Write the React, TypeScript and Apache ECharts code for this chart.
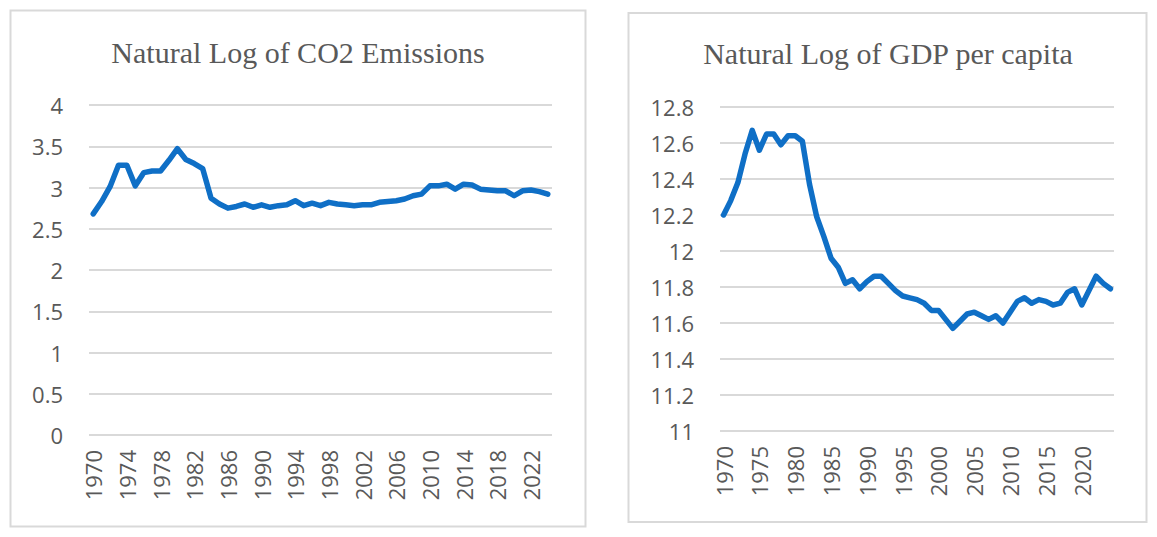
import React, { useEffect, useRef } from 'react';
import * as echarts from 'echarts';

const years = [
  '1970', '1971', '1972', '1973', '1974', '1975', '1976', '1977', '1978', '1979',
  '1980', '1981', '1982', '1983', '1984', '1985', '1986', '1987', '1988', '1989',
  '1990', '1991', '1992', '1993', '1994', '1995', '1996', '1997', '1998', '1999',
  '2000', '2001', '2002', '2003', '2004', '2005', '2006', '2007', '2008', '2009',
  '2010', '2011', '2012', '2013', '2014', '2015', '2016', '2017', '2018', '2019',
  '2020', '2021', '2022', '2023', '2024'
];

// ln(CO2 emissions)
const co2 = [
  2.68, 2.83, 3.01, 3.27, 3.27, 3.02, 3.18, 3.2, 3.2, 3.33,
  3.47, 3.34, 3.29, 3.23, 2.87, 2.8, 2.75, 2.77, 2.8, 2.76,
  2.79, 2.76, 2.78, 2.79, 2.84, 2.78, 2.81, 2.78, 2.82, 2.8,
  2.79, 2.78, 2.79, 2.79, 2.82, 2.83, 2.84, 2.86, 2.9, 2.92,
  3.02, 3.02, 3.04, 2.98, 3.04, 3.03, 2.98, 2.97, 2.96, 2.96,
  2.9, 2.96, 2.97, 2.95, 2.92
];

// ln(GDP per capita)
const gdp = [
  12.2, 12.28, 12.38, 12.54, 12.67, 12.56, 12.65, 12.65, 12.59, 12.64,
  12.64, 12.61, 12.37, 12.19, 12.08, 11.96, 11.91, 11.82, 11.84, 11.79,
  11.83, 11.86, 11.86, 11.82, 11.78, 11.75, 11.74, 11.73, 11.71, 11.67,
  11.67, 11.62, 11.57, 11.61, 11.65, 11.66, 11.64, 11.62, 11.64, 11.6,
  11.66, 11.72, 11.74, 11.71, 11.73, 11.72, 11.7, 11.71, 11.77, 11.79,
  11.7, 11.78, 11.86, 11.82, 11.79
];

const titles = ['Natural Log of CO2 Emissions', 'Natural Log of GDP per capita'];

const gray = '#595959';
const gridGray = '#d9d9d9';
const blue = '#0f6fc6';
const labelFont = '"Open Sans", "Noto Sans", sans-serif';

const App: React.FC = () => {
  const chartRef = useRef<HTMLDivElement>(null);

  useEffect(() => {
    if (!chartRef.current) return;
    const chart = echarts.init(chartRef.current, null, { renderer: 'svg' });

    const xAxisFor = (gridIndex: number, interval: number) => ({
      type: 'category',
      gridIndex,
      data: years,
      boundaryGap: true,
      axisLine: { show: false },
      axisTick: { show: false },
      axisLabel: {
        interval,
        rotate: 90,
        margin: 15,
        color: gray,
        fontSize: 22,
        fontFamily: labelFont
      }
    });

    const yAxisFor = (gridIndex: number, min: number, max: number, interval: number) => ({
      type: 'value',
      gridIndex,
      min,
      max,
      interval,
      axisLine: { show: false },
      axisTick: { show: false },
      axisLabel: {
        margin: 26,
        color: gray,
        fontSize: 22,
        fontFamily: labelFont,
        formatter: (v: number) => String(+v.toFixed(1))
      },
      splitLine: { lineStyle: { color: gridGray, width: 2 } }
    });

    const option = {
      animation: false,
      backgroundColor: '#ffffff',
      graphic: [
        {
          type: 'rect',
          shape: { x: 10.5, y: 10.5, width: 575, height: 516 },
          style: { fill: 'none', stroke: gridGray, lineWidth: 2 }
        },
        {
          type: 'rect',
          shape: { x: 628.5, y: 13, width: 518, height: 509 },
          style: { fill: 'none', stroke: gridGray, lineWidth: 2 }
        },
        {
          type: 'text',
          x: 298,
          y: 52,
          style: {
            text: titles[0],
            fill: gray,
            font: '30px "Liberation Serif", "Times New Roman", serif',
            align: 'center',
            verticalAlign: 'middle'
          }
        },
        {
          type: 'text',
          x: 888,
          y: 53.5,
          style: {
            text: titles[1],
            fill: gray,
            font: '30px "Liberation Serif", "Times New Roman", serif',
            align: 'center',
            verticalAlign: 'middle'
          }
        }
      ],
      grid: [
        { left: 89, top: 105, width: 463, height: 330 },
        { left: 720, top: 107, width: 394, height: 324 }
      ],
      xAxis: [xAxisFor(0, 3), xAxisFor(1, 4)],
      yAxis: [yAxisFor(0, 0, 4, 0.5), yAxisFor(1, 11, 12.8, 0.2)],
      series: [
        {
          type: 'line',
          xAxisIndex: 0,
          yAxisIndex: 0,
          data: co2,
          showSymbol: false,
          lineStyle: { color: blue, width: 5.5, join: 'round', cap: 'round' }
        },
        {
          type: 'line',
          xAxisIndex: 1,
          yAxisIndex: 1,
          data: gdp,
          showSymbol: false,
          lineStyle: { color: blue, width: 5.5, join: 'round', cap: 'round' }
        }
      ]
    };

    chart.setOption(option);

    return () => {
      chart.dispose();
    };
  }, []);

  return (
    <div
      ref={chartRef}
      style={{
        position: 'fixed',
        left: 0,
        top: 0,
        width: '1157px',
        height: '537px',
        background: '#fff'
      }}
    ></div>
  );
};

export default App;
